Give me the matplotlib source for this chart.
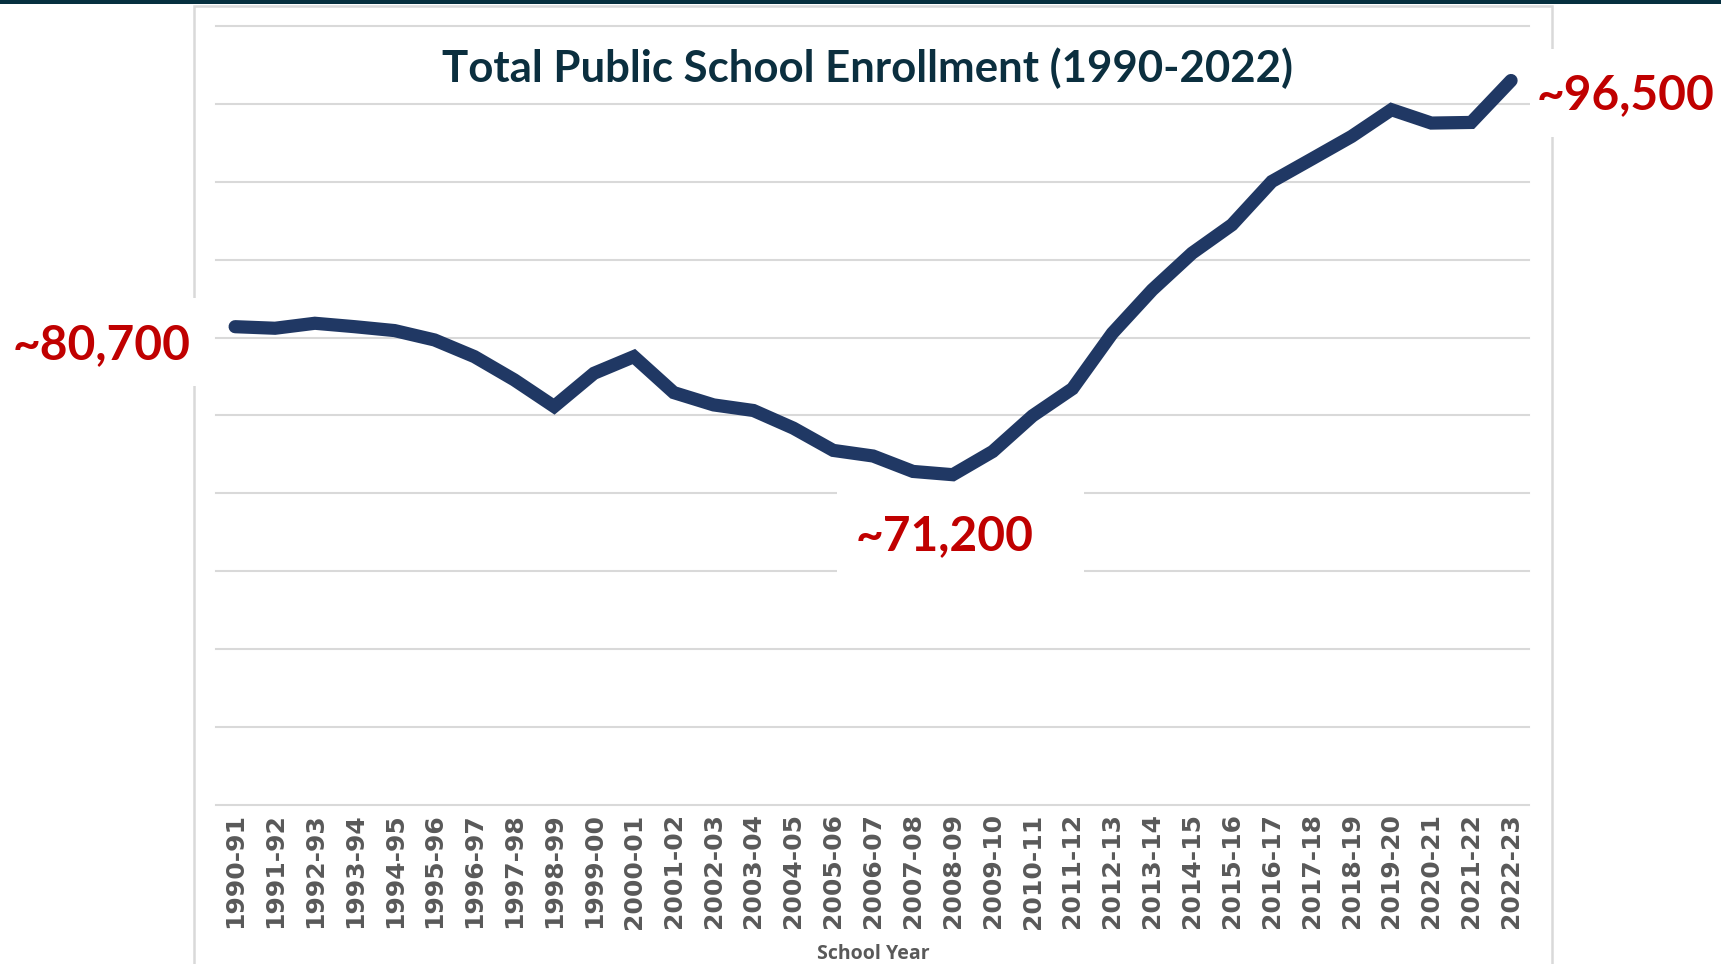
import matplotlib
matplotlib.use("Agg")
import matplotlib.pyplot as plt
from matplotlib.patches import Rectangle

# 学年与入学人数
school_years = ['1990-91', '1991-92', '1992-93', '1993-94', '1994-95', '1995-96',
                '1996-97', '1997-98', '1998-99', '1999-00', '2000-01', '2001-02',
                '2002-03', '2003-04', '2004-05', '2005-06', '2006-07', '2007-08',
                '2008-09', '2009-10', '2010-11', '2011-12', '2012-13', '2013-14',
                '2014-15', '2015-16', '2016-17', '2017-18', '2018-19', '2019-20',
                '2020-21', '2021-22', '2022-23']
enrollment = [80700, 80600, 80920, 80700, 80450, 79850,
              78780, 77290, 75580, 77710, 78780, 76470,
              75680, 75320, 74190, 72760, 72400, 71410,
              71200, 72690, 74980, 76720, 80280, 83060,
              85420, 87240, 90020, 91460, 92910, 94630,
              93770, 93810, 96500]
grid_values = [50000, 55000, 60000, 65000, 70000, 75000,
               80000, 85000, 90000, 95000, 100000]
callouts = ['~80,700', '~71,200', '~96,500']

W, H = 1721, 964
fig = plt.figure(figsize=(W / 100, H / 100), dpi=100)
fig.patch.set_facecolor('white')

# 顶部深色条和图表外框
fig.patches.append(Rectangle((0, 1 - 4 / H), 1, 4 / H, transform=fig.transFigure,
                             facecolor='#06303f', edgecolor='none', zorder=0))
fig.patches.append(Rectangle((194 / W, -0.01), (1552 - 194) / W, 1 - 6 / H + 0.01,
                             transform=fig.transFigure, facecolor='none',
                             edgecolor='#d9d9d9', linewidth=1.8, zorder=0))

ax = fig.add_axes([216 / W, 1 - 805 / H, (1529 - 216) / W, (805 - 26) / H])
ax.set_facecolor('none')
x = list(range(len(school_years)))

for v in grid_values:
    ax.axhline(v, color='#d9d9d9', linewidth=1.5, zorder=1, clip_on=False)

ax.plot(x, enrollment, color='#203864', linewidth=9.5, solid_capstyle='round',
        solid_joinstyle='miter', zorder=3)

ax.set_xlim(-0.48, 32.45)
ax.set_ylim(50000, 100000)
ax.set_yticks([])
ax.set_xticks(x)
ax.set_xticklabels(school_years, rotation=90, fontsize=18, fontweight='bold',
                   color='#595959', family='DejaVu Sans')
ax.tick_params(axis='x', length=0, pad=6)
for s in ax.spines.values():
    s.set_visible(False)

fig.text(873 / W, 1 - 954 / H, 'School Year', ha='center', va='center',
         fontsize=14, fontweight='bold', color='#595959', family='Open Sans')

fig.text(867 / W, 1 - 68 / H, 'Total Public School Enrollment (1990-2022)',
         ha='center', va='center', fontsize=31.5, fontweight='bold',
         color='#0b2f3f', family='Lato')

# 标注（白色底块盖住网格线和外框）
boxes = [(0, 298, 200, 88), (837, 488, 247, 100), (1530, 49, 191, 88)]
text_pos = [(102, 345), (945, 536), (1626, 95)]
for (bx, by, bw, bh), (tx, ty), lab in zip(boxes, text_pos, callouts):
    fig.patches.append(Rectangle((bx / W, 1 - (by + bh) / H), bw / W, bh / H,
                                 transform=fig.transFigure, facecolor='white',
                                 edgecolor='none', zorder=5))
    fig.text(tx / W, 1 - ty / H, lab, ha='center', va='center', fontsize=34.5,
             fontweight='bold', color='#c00000', family='Lato', zorder=6)

fig.savefig('out.png', dpi=100)
